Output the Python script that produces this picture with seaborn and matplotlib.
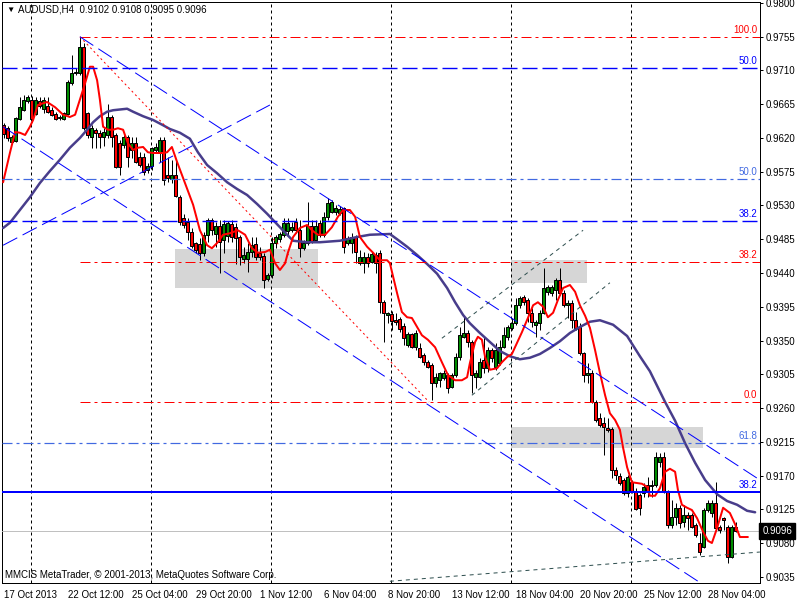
import numpy as np
import pandas as pd
import matplotlib
matplotlib.use("Agg")
import matplotlib.pyplot as plt
import matplotlib.transforms as mtransforms
from matplotlib.patches import Rectangle
import seaborn as sns

sns.set_style("white")
plt.rcParams['font.family'] = ['Liberation Sans', 'DejaVu Sans']

# H4 candles
opens = [0.9637, 0.9633, 0.9615, 0.9616, 0.9645, 0.9657, 0.9669, 0.9671, 0.9652, 0.9669,
         0.9659, 0.9663, 0.9657, 0.9652, 0.9648, 0.9645, 0.9652, 0.9693, 0.9707, 0.9707,
         0.9741, 0.9653, 0.9621, 0.9631, 0.9627, 0.9621, 0.9624, 0.9648, 0.9624, 0.9613,
         0.9611, 0.9621, 0.9604, 0.9613, 0.9595, 0.9595, 0.9577, 0.9583, 0.9604, 0.9601,
         0.9617, 0.9571, 0.9565, 0.9571, 0.9541, 0.9513, 0.9508, 0.9495, 0.9480, 0.9479,
         0.9467, 0.9491, 0.9511, 0.9492, 0.9503, 0.9484, 0.9489, 0.9505, 0.9501, 0.9488,
         0.9459, 0.9459, 0.9468, 0.9479, 0.9467, 0.9463, 0.9432, 0.9437, 0.9480, 0.9485,
         0.9491, 0.9496, 0.9497, 0.9508, 0.9497, 0.9473, 0.9480, 0.9503, 0.9484, 0.9507,
         0.9491, 0.9515, 0.9521, 0.9521, 0.9520, 0.9527, 0.9480, 0.9480, 0.9488, 0.9453,
         0.9453, 0.9461, 0.9455, 0.9464, 0.9467, 0.9401, 0.9384, 0.9385, 0.9377, 0.9379,
         0.9369, 0.9344, 0.9359, 0.9341, 0.9340, 0.9331, 0.9321, 0.9317, 0.9293, 0.9297,
         0.9300, 0.9304, 0.9288, 0.9304, 0.9328, 0.9355, 0.9360, 0.9348, 0.9301, 0.9301,
         0.9324, 0.9313, 0.9337, 0.9315, 0.9320, 0.9341, 0.9355, 0.9367, 0.9373, 0.9397,
         0.9408, 0.9404, 0.9387, 0.9371, 0.9373, 0.9387, 0.9415, 0.9413, 0.9417, 0.9431,
         0.9413, 0.9397, 0.9400, 0.9377, 0.9368, 0.9333, 0.9304, 0.9307, 0.9268, 0.9247,
         0.9240, 0.9233, 0.9232, 0.9177, 0.9169, 0.9164, 0.9147, 0.9161, 0.9148, 0.9144,
         0.9147, 0.9157, 0.9157, 0.9157, 0.9188, 0.9195, 0.9148, 0.9104, 0.9115, 0.9127,
         0.9108, 0.9117, 0.9117, 0.9104, 0.9080, 0.9075, 0.9124, 0.9120, 0.9133, 0.9101,
         0.9113, 0.9101, 0.9061, 0.9102]
highs = [0.9640, 0.9636, 0.9624, 0.9648, 0.9675, 0.9677, 0.9677, 0.9676, 0.9675, 0.9675,
         0.9675, 0.9675, 0.9661, 0.9655, 0.9651, 0.9655, 0.9697, 0.9731, 0.9713, 0.9755,
         0.9747, 0.9655, 0.9637, 0.9633, 0.9631, 0.9633, 0.9665, 0.9651, 0.9627, 0.9617,
         0.9624, 0.9624, 0.9621, 0.9621, 0.9601, 0.9600, 0.9587, 0.9608, 0.9613, 0.9621,
         0.9621, 0.9595, 0.9591, 0.9591, 0.9544, 0.9519, 0.9513, 0.9500, 0.9481, 0.9487,
         0.9495, 0.9513, 0.9513, 0.9508, 0.9511, 0.9511, 0.9509, 0.9511, 0.9507, 0.9491,
         0.9475, 0.9480, 0.9488, 0.9488, 0.9475, 0.9467, 0.9440, 0.9488, 0.9491, 0.9495,
         0.9513, 0.9513, 0.9508, 0.9513, 0.9511, 0.9484, 0.9535, 0.9511, 0.9511, 0.9511,
         0.9521, 0.9540, 0.9537, 0.9531, 0.9529, 0.9528, 0.9489, 0.9493, 0.9491, 0.9471,
         0.9468, 0.9467, 0.9468, 0.9468, 0.9471, 0.9404, 0.9388, 0.9389, 0.9387, 0.9381,
         0.9373, 0.9361, 0.9360, 0.9364, 0.9347, 0.9333, 0.9324, 0.9320, 0.9307, 0.9308,
         0.9311, 0.9307, 0.9307, 0.9333, 0.9368, 0.9381, 0.9364, 0.9351, 0.9311, 0.9327,
         0.9355, 0.9341, 0.9340, 0.9347, 0.9351, 0.9368, 0.9371, 0.9380, 0.9407, 0.9409,
         0.9411, 0.9407, 0.9393, 0.9377, 0.9391, 0.9447, 0.9424, 0.9424, 0.9433, 0.9447,
         0.9417, 0.9404, 0.9404, 0.9388, 0.9373, 0.9335, 0.9320, 0.9311, 0.9271, 0.9253,
         0.9248, 0.9247, 0.9235, 0.9181, 0.9173, 0.9167, 0.9171, 0.9164, 0.9153, 0.9147,
         0.9160, 0.9168, 0.9164, 0.9201, 0.9200, 0.9201, 0.9151, 0.9137, 0.9133, 0.9131,
         0.9131, 0.9121, 0.9120, 0.9107, 0.9093, 0.9127, 0.9137, 0.9137, 0.9161, 0.9104,
         0.9115, 0.9104, 0.9104, 0.9108]
lows = [0.9620, 0.9616, 0.9612, 0.9615, 0.9644, 0.9656, 0.9667, 0.9641, 0.9651, 0.9660,
        0.9653, 0.9653, 0.9649, 0.9644, 0.9644, 0.9644, 0.9651, 0.9691, 0.9704, 0.9704,
        0.9631, 0.9620, 0.9607, 0.9607, 0.9607, 0.9609, 0.9620, 0.9608, 0.9580, 0.9571,
        0.9607, 0.9581, 0.9593, 0.9587, 0.9581, 0.9571, 0.9573, 0.9577, 0.9601, 0.9588,
        0.9557, 0.9561, 0.9560, 0.9541, 0.9504, 0.9500, 0.9484, 0.9473, 0.9467, 0.9457,
        0.9463, 0.9481, 0.9491, 0.9475, 0.9440, 0.9467, 0.9481, 0.9481, 0.9452, 0.9451,
        0.9453, 0.9441, 0.9461, 0.9457, 0.9457, 0.9420, 0.9429, 0.9433, 0.9473, 0.9481,
        0.9488, 0.9491, 0.9495, 0.9493, 0.9461, 0.9471, 0.9477, 0.9480, 0.9481, 0.9488,
        0.9488, 0.9511, 0.9520, 0.9517, 0.9517, 0.9467, 0.9477, 0.9467, 0.9453, 0.9451,
        0.9440, 0.9448, 0.9453, 0.9440, 0.9387, 0.9348, 0.9373, 0.9364, 0.9371, 0.9361,
        0.9344, 0.9341, 0.9340, 0.9337, 0.9327, 0.9317, 0.9313, 0.9271, 0.9288, 0.9288,
        0.9297, 0.9280, 0.9287, 0.9301, 0.9324, 0.9353, 0.9341, 0.9280, 0.9287, 0.9300,
        0.9307, 0.9308, 0.9321, 0.9311, 0.9317, 0.9340, 0.9351, 0.9364, 0.9371, 0.9393,
        0.9397, 0.9375, 0.9368, 0.9355, 0.9364, 0.9385, 0.9411, 0.9409, 0.9404, 0.9411,
        0.9395, 0.9380, 0.9367, 0.9364, 0.9331, 0.9295, 0.9293, 0.9267, 0.9241, 0.9235,
        0.9197, 0.9228, 0.9167, 0.9164, 0.9157, 0.9144, 0.9141, 0.9147, 0.9124, 0.9117,
        0.9141, 0.9141, 0.9141, 0.9155, 0.9181, 0.9147, 0.9100, 0.9100, 0.9104, 0.9100,
        0.9101, 0.9097, 0.9100, 0.9088, 0.9064, 0.9073, 0.9121, 0.9115, 0.9097, 0.9093,
        0.9097, 0.9053, 0.9060, 0.9095]
closes = [0.9625, 0.9620, 0.9621, 0.9647, 0.9661, 0.9671, 0.9675, 0.9645, 0.9671, 0.9663,
          0.9671, 0.9655, 0.9651, 0.9645, 0.9647, 0.9653, 0.9695, 0.9707, 0.9708, 0.9741,
          0.9633, 0.9624, 0.9633, 0.9627, 0.9621, 0.9628, 0.9648, 0.9621, 0.9581, 0.9581,
          0.9621, 0.9595, 0.9613, 0.9588, 0.9584, 0.9575, 0.9583, 0.9607, 0.9608, 0.9617,
          0.9564, 0.9567, 0.9571, 0.9543, 0.9508, 0.9504, 0.9495, 0.9476, 0.9471, 0.9467,
          0.9491, 0.9511, 0.9497, 0.9503, 0.9481, 0.9505, 0.9507, 0.9488, 0.9487, 0.9461,
          0.9464, 0.9468, 0.9477, 0.9461, 0.9461, 0.9431, 0.9437, 0.9480, 0.9488, 0.9492,
          0.9507, 0.9507, 0.9501, 0.9497, 0.9473, 0.9480, 0.9503, 0.9481, 0.9503, 0.9491,
          0.9515, 0.9533, 0.9535, 0.9527, 0.9525, 0.9475, 0.9487, 0.9488, 0.9468, 0.9461,
          0.9461, 0.9453, 0.9465, 0.9453, 0.9401, 0.9387, 0.9387, 0.9376, 0.9375, 0.9365,
          0.9353, 0.9359, 0.9341, 0.9360, 0.9328, 0.9321, 0.9315, 0.9293, 0.9301, 0.9307,
          0.9307, 0.9287, 0.9304, 0.9328, 0.9357, 0.9360, 0.9348, 0.9304, 0.9307, 0.9321,
          0.9313, 0.9337, 0.9327, 0.9337, 0.9341, 0.9357, 0.9368, 0.9373, 0.9397, 0.9407,
          0.9401, 0.9387, 0.9375, 0.9375, 0.9387, 0.9420, 0.9421, 0.9421, 0.9431, 0.9413,
          0.9397, 0.9400, 0.9377, 0.9367, 0.9333, 0.9304, 0.9307, 0.9268, 0.9244, 0.9237,
          0.9235, 0.9231, 0.9177, 0.9171, 0.9160, 0.9147, 0.9168, 0.9148, 0.9125, 0.9127,
          0.9155, 0.9148, 0.9156, 0.9195, 0.9195, 0.9148, 0.9104, 0.9115, 0.9127, 0.9107,
          0.9117, 0.9113, 0.9101, 0.9091, 0.9068, 0.9124, 0.9133, 0.9133, 0.9100, 0.9097,
          0.9111, 0.9061, 0.9101, 0.9096]

# moving averages: (bar position, price)
ma_fast_pts = [(-0.1, 0.9561), (1.6, 0.9600), (2.9, 0.9628), (4.1, 0.9627), (5.4, 0.9624), (6.6, 0.9635),
               (7.4, 0.9644), (8.6, 0.9664), (10.9, 0.9668), (12.9, 0.9661), (14.9, 0.9651), (16.6, 0.9648),
               (17.9, 0.9651), (19.1, 0.9671), (20.4, 0.9693), (21.6, 0.9715), (22.4, 0.9715), (23.4, 0.9697),
               (24.1, 0.9671), (24.9, 0.9635), (26.1, 0.9631), (27.4, 0.9631), (28.6, 0.9633), (29.9, 0.9631),
               (31.1, 0.9613), (32.4, 0.9604), (33.6, 0.9607), (34.9, 0.9608), (36.1, 0.9601), (37.4, 0.9600),
               (39.9, 0.9600), (40.9, 0.9601), (42.1, 0.9608), (43.4, 0.9588), (44.6, 0.9571), (45.9, 0.9553),
               (47.4, 0.9531), (49.1, 0.9497), (50.9, 0.9477), (52.1, 0.9473), (53.4, 0.9480), (54.9, 0.9491),
               (56.6, 0.9493), (58.6, 0.9497), (60.4, 0.9491), (62.1, 0.9473), (63.6, 0.9467), (65.4, 0.9468),
               (66.6, 0.9471), (67.9, 0.9453), (69.1, 0.9444), (70.4, 0.9453), (71.1, 0.9467), (72.4, 0.9488),
               (74.1, 0.9500), (75.9, 0.9504), (77.1, 0.9497), (78.6, 0.9491), (80.4, 0.9491), (82.1, 0.9501),
               (83.6, 0.9515), (84.9, 0.9524), (86.6, 0.9524), (87.9, 0.9515), (89.1, 0.9488), (90.9, 0.9475),
               (92.4, 0.9467), (94.1, 0.9457), (95.9, 0.9457), (96.6, 0.9453), (97.4, 0.9435), (98.4, 0.9413),
               (99.6, 0.9388), (100.9, 0.9381), (102.1, 0.9380), (103.4, 0.9368), (104.6, 0.9357), (106.1, 0.9351),
               (107.9, 0.9341), (109.6, 0.9321), (111.1, 0.9304), (112.9, 0.9297), (114.6, 0.9297), (115.9, 0.9301),
               (116.6, 0.9320), (117.9, 0.9348), (118.6, 0.9355), (119.6, 0.9351), (120.4, 0.9328), (121.6, 0.9311),
               (123.4, 0.9313), (124.6, 0.9321), (125.9, 0.9328), (127.1, 0.9332), (128.4, 0.9347), (129.6, 0.9361),
               (131.1, 0.9380), (132.4, 0.9397), (133.6, 0.9401), (134.9, 0.9395), (136.1, 0.9381), (137.4, 0.9387),
               (138.6, 0.9404), (139.9, 0.9420), (141.6, 0.9424), (142.9, 0.9415), (144.1, 0.9397), (145.4, 0.9383),
               (146.6, 0.9367), (147.9, 0.9337), (149.1, 0.9307), (150.4, 0.9277), (151.6, 0.9253), (152.9, 0.9244),
               (154.1, 0.9231), (154.9, 0.9207), (155.9, 0.9181), (157.1, 0.9161), (159.6, 0.9159), (160.9, 0.9155),
               (161.6, 0.9143), (162.9, 0.9143), (164.1, 0.9153), (165.4, 0.9175), (166.6, 0.9179), (167.9, 0.9175),
               (168.6, 0.9151), (169.6, 0.9131), (170.9, 0.9127), (172.1, 0.9124), (173.4, 0.9113), (174.9, 0.9095),
               (176.1, 0.9083), (177.1, 0.9080), (178.4, 0.9100), (179.9, 0.9127), (181.6, 0.9120), (182.9, 0.9105),
               (184.1, 0.9088), (186.1, 0.9088)]
ma_slow_pts = [(-0.1, 0.9500), (1.6, 0.9507), (4.1, 0.9524), (6.6, 0.9541), (9.1, 0.9560), (11.6, 0.9576),
               (14.1, 0.9591), (16.6, 0.9607), (19.1, 0.9620), (20.9, 0.9631), (22.4, 0.9641), (24.1, 0.9649),
               (25.9, 0.9655), (27.4, 0.9657), (30.9, 0.9659), (32.4, 0.9655), (34.9, 0.9649), (37.4, 0.9644),
               (39.9, 0.9637), (41.6, 0.9632), (44.1, 0.9627), (46.6, 0.9619), (48.6, 0.9601), (50.9, 0.9584),
               (53.4, 0.9573), (55.9, 0.9561), (58.4, 0.9552), (60.9, 0.9544), (63.4, 0.9532), (65.9, 0.9519),
               (68.4, 0.9505), (70.9, 0.9491), (72.4, 0.9483), (75.9, 0.9481), (79.1, 0.9481), (84.1, 0.9483),
               (88.4, 0.9488), (91.6, 0.9491), (96.6, 0.9492), (98.4, 0.9485), (100.9, 0.9475), (103.4, 0.9464),
               (105.9, 0.9452), (108.4, 0.9439), (110.9, 0.9420), (112.9, 0.9401), (114.9, 0.9384), (116.6, 0.9373),
               (119.1, 0.9360), (121.6, 0.9348), (124.1, 0.9336), (126.6, 0.9329), (129.1, 0.9325), (131.6, 0.9327),
               (134.1, 0.9332), (136.6, 0.9340), (139.1, 0.9349), (141.6, 0.9360), (144.1, 0.9368), (146.6, 0.9375),
               (149.1, 0.9377), (152.4, 0.9371), (155.9, 0.9356), (159.1, 0.9329), (161.6, 0.9309), (165.4, 0.9268),
               (167.9, 0.9243), (170.4, 0.9213), (172.9, 0.9187), (175.4, 0.9164), (178.4, 0.9145), (180.9, 0.9136),
               (183.4, 0.9131), (185.9, 0.9123), (187.9, 0.9121)]

# objects on the chart
fib_red_levels = [0.9755, 0.9454, 0.9268]
fib_red_names = ["100.0", "38.2", "0.0"]
fib_red_start = 19.1
fib_red_diag = [(19.1, 0.9755), (106.4, 0.9268)]
blue_dash_levels = [0.9713, 0.9509]
blue_dash_names = ["50.0", "38.2"]
blue_dashdot_levels = [0.9565, 0.9213]
blue_dashdot_names = ["50.0", "61.8"]
blue_solid_level = 0.9148
blue_solid_name = "38.2"
bid_price = 0.9096

blue_diag_lines = [[(19.1, 0.9755), (189.1, 0.9164)],
                   [(-0.1, 0.9635), (189.1, 0.8975)],
                   [(-0.1, 0.9477), (66.6, 0.9664)]]
green_diag_lines = [[(96.6, 0.9029), (189.1, 0.9068)],
                    [(109.6, 0.9353), (144.9, 0.9497)],
                    [(117.1, 0.9277), (151.6, 0.9427)]]
rects = [(42.9, 78.6, 0.9420, 0.9472),
         (126.9, 145.9, 0.9427, 0.9457),
         (126.9, 174.9, 0.9207, 0.9235)]

grid_bars = [6.9, 36.9, 66.9, 96.9, 126.9, 156.9]
x_tick_bars = [0, 16, 32, 48, 64, 80, 96, 112, 128, 144, 160, 176]
x_tick_labels = ["17 Oct 2013", "22 Oct 12:00", "25 Oct 04:00", "29 Oct 20:00", "1 Nov 12:00",
                 "6 Nov 04:00", "8 Nov 20:00", "13 Nov 12:00", "18 Nov 04:00", "20 Nov 20:00",
                 "25 Nov 12:00", "28 Nov 04:00"]
y_ticks = [0.9800, 0.9755, 0.9710, 0.9665, 0.9620, 0.9575, 0.9530, 0.9485, 0.9440,
           0.9395, 0.9350, 0.9305, 0.9260, 0.9215, 0.9170, 0.9125, 0.9080, 0.9035]


def ls(pattern, lw):
    # dash pattern given in pixels -> linewidth units
    return (0, tuple(p * 0.72 / lw for p in pattern))


PX = 0.72
fig = plt.figure(figsize=(8, 6), dpi=100)
ax = fig.add_axes([2 / 800, 17 / 600, 758 / 800, 581 / 600])
ax.set_xlim(-0.375, 189.125)
ax.set_ylim(0.90267, 0.98013)

df = pd.DataFrame({"o": opens, "h": highs, "l": lows, "c": closes})
df["bar"] = np.arange(len(df))
up = df["c"] >= df["o"]

for x0, x1, y0, y1 in rects:
    ax.add_patch(Rectangle((x0, y0), x1 - x0, y1 - y0, facecolor="#d6d6d6", edgecolor="none", zorder=1))

for g in grid_bars:
    ax.axvline(g, color="black", lw=PX, ls=ls((3, 3), PX), zorder=2)

# candles
ax.vlines(df["bar"], df["l"], df["h"], color="black", lw=PX, zorder=4)
ax.bar(df["bar"], (df["c"] - df["o"]).abs().clip(lower=0.00003), bottom=np.minimum(df["o"], df["c"]),
       width=0.68, color=np.where(up, "#008c00", "#ff0000"), edgecolor="black", linewidth=PX, zorder=5)

# moving averages
fast = pd.DataFrame(ma_fast_pts, columns=["bar", "price"])
slow = pd.DataFrame(ma_slow_pts, columns=["bar", "price"])
sns.lineplot(data=slow, x="bar", y="price", sort=False, estimator=None, color="#483d8b", lw=2.5 * PX, ax=ax, zorder=6)
sns.lineplot(data=fast, x="bar", y="price", sort=False, estimator=None, color="#ff0000", lw=2 * PX, ax=ax, zorder=6)

# horizontal objects
ax.axhline(bid_price, color="#c0c0c0", lw=PX, zorder=3)
for lvl in blue_dash_levels:
    ax.axhline(lvl, color="#0000ff", lw=1.4 * PX, ls=ls((15, 5), 1.4 * PX), zorder=7)
for lvl in blue_dashdot_levels:
    ax.axhline(lvl, color="#4169e1", lw=1.2 * PX, ls=ls((10, 4, 3, 4), 1.2 * PX), zorder=7)
ax.axhline(blue_solid_level, color="#0000ff", lw=2 * PX, zorder=7)
for lvl in fib_red_levels:
    ax.plot([fib_red_start, 189.2], [lvl, lvl], color="#ff0000", lw=PX, ls=ls((10, 4, 3, 4), PX), zorder=7)
ax.plot([p[0] for p in fib_red_diag], [p[1] for p in fib_red_diag], color="#ff0000", lw=PX,
        ls=ls((2, 3), PX), zorder=7)
for seg in blue_diag_lines:
    ax.plot([p[0] for p in seg], [p[1] for p in seg], color="#0000ff", lw=PX, ls=ls((16, 6), PX), zorder=7)
for seg in green_diag_lines:
    ax.plot([p[0] for p in seg], [p[1] for p in seg], color="#2f4f4f", lw=PX, ls=ls((4, 4), PX), zorder=7)

# level labels
blend = mtransforms.blended_transform_factory(ax.transAxes, ax.transData)
labels = ([(v, n, "#ff0000") for v, n in zip(fib_red_levels, fib_red_names)] +
          [(v, n, "#0000ff") for v, n in zip(blue_dash_levels, blue_dash_names)] +
          [(v, n, "#4169e1") for v, n in zip(blue_dashdot_levels, blue_dashdot_names)] +
          [(blue_solid_level, blue_solid_name, "#0000ff")])
for v, n, col in labels:
    ax.annotate(n, xy=(0.996, v), xycoords=blend, xytext=(0, 1.5), textcoords="offset points",
                ha="right", va="bottom", color=col, fontsize=7, zorder=8)

# axes styling
for s in ax.spines.values():
    s.set_color("black")
    s.set_linewidth(PX)
ax.yaxis.tick_right()
ax.set_yticks(y_ticks)
ax.set_yticklabels(["%.4f" % t for t in y_ticks])
ax.set_xticks(x_tick_bars)
ax.set_xticklabels(x_tick_labels)
ax.tick_params(axis="y", direction="out", length=3 * PX, width=PX, pad=2, labelsize=7, colors="black")
ax.tick_params(axis="x", direction="out", length=4 * PX, width=PX, pad=2, labelsize=7, colors="black")
offset = mtransforms.ScaledTranslation(1 / 100, 0, fig.dpi_scale_trans)
for lbl in ax.get_xticklabels():
    lbl.set_horizontalalignment("left")
    lbl.set_transform(lbl.get_transform() + offset)
ax.set_xlabel("")
ax.set_ylabel("")

ax.text(1.003, bid_price, "0.9096", transform=blend, ha="left", va="center", color="white", fontsize=7,
        clip_on=False, zorder=9,
        bbox=dict(boxstyle="square,pad=0.3", facecolor="black", edgecolor="black"))

fig.text(6 / 800, 1 - 10 / 600, "\u25bc", fontsize=6, ha="left", va="center", color="black")
fig.text(18 / 800, 1 - 10 / 600, "AUDUSD,H4  0.9102 0.9108 0.9095 0.9096", fontsize=7, ha="left",
         va="center", color="black")
fig.text(5 / 800, 1 - 575 / 600, "MMCIS MetaTrader, \u00a9 2001-2013, MetaQuotes Software Corp.",
         fontsize=7, ha="left", va="center", color="black")

fig.savefig("out.png", dpi=100, facecolor="white")
